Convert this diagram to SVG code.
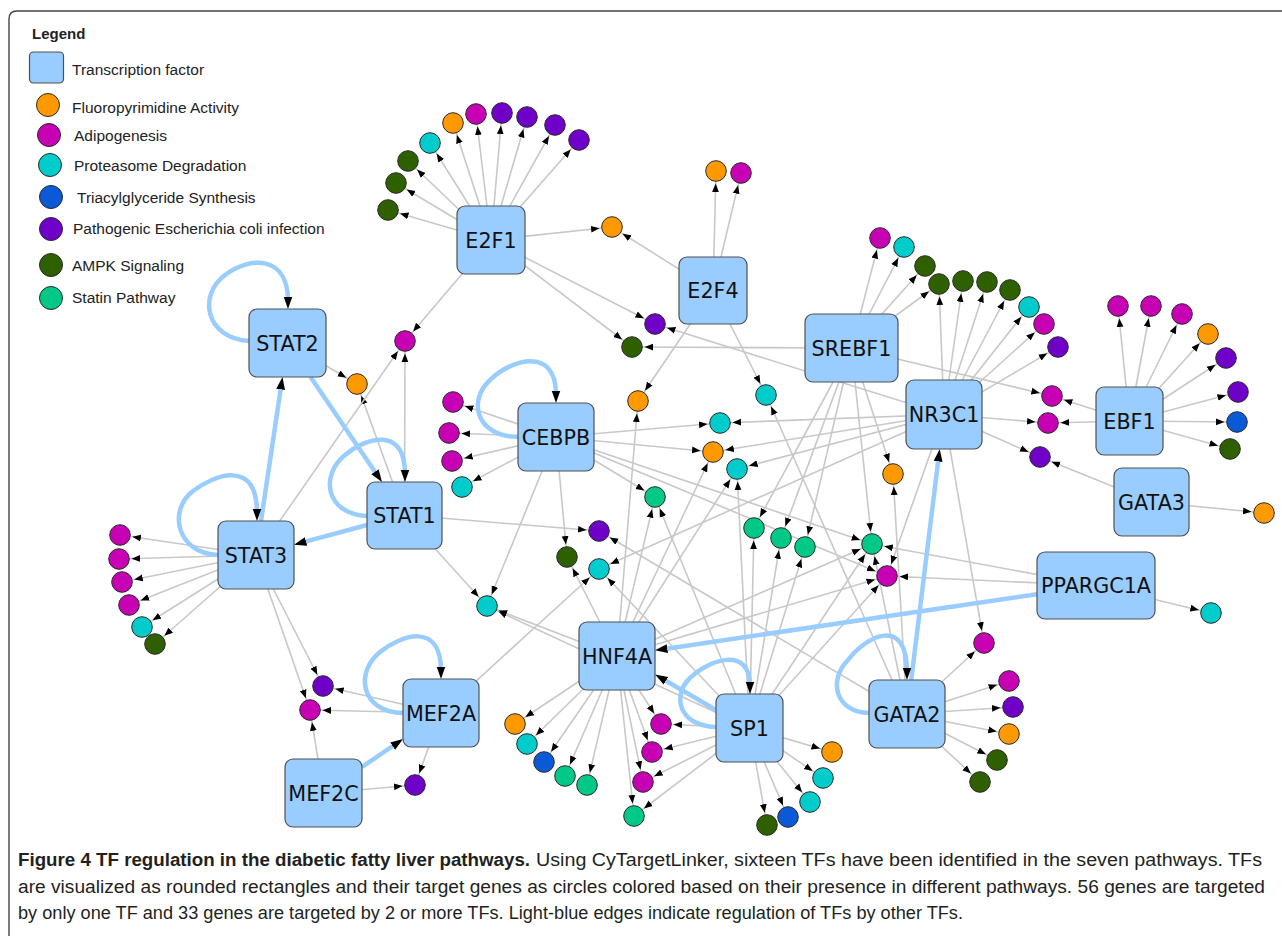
<svg xmlns="http://www.w3.org/2000/svg" width="1282" height="936" viewBox="0 0 1282 936">
<defs>
<style>
text{font-family:"Liberation Sans",Arial,sans-serif}
.tf{fill:#99ccff;stroke:#505050;stroke-width:1.2}
.tl{font-family:"DejaVu Sans",sans-serif;font-size:20.7px;fill:#111;text-anchor:middle}
.e line{stroke:#c8c8c8;stroke-width:1.6;marker-end:url(#a)}
.r{stroke:#99ccff;stroke-width:4.5;fill:none;marker-end:url(#b)}
.n{stroke:#2a2a2a;stroke-width:1}
.o{fill:#ff9900}.m{fill:#c800b4}.c{fill:#00cccc}.b{fill:#0a5ad8}.p{fill:#6e00c8}.g{fill:#2f6000}.s{fill:#00c887}
.lg{font-size:15.5px;fill:#222}
.cap{font-size:17.5px;fill:#231f20}
</style>
<marker id="a" markerUnits="userSpaceOnUse" markerWidth="22" markerHeight="8" refX="21" refY="4" orient="auto"><path d="M0,0.6 L8.5,4 L0,7.4Z" fill="#000"/></marker>
<marker id="b" markerUnits="userSpaceOnUse" markerWidth="13" markerHeight="10" refX="4.5" refY="5" orient="auto"><path d="M0,0.6 L12.5,5 L0,9.4Z" fill="#000"/></marker>
</defs>
<rect width="1282" height="936" fill="#fff"/>
<path d="M9,936 V19 Q9,11 17,11 H1282" fill="none" stroke="#444" stroke-width="1.4"/>

<g id="legend">
<text x="32" y="39" font-weight="bold" font-size="15" fill="#222">Legend</text>
<rect class="tf" x="29.5" y="52" width="34" height="31" rx="4"/>
<text class="lg" x="72" y="74.5">Transcription factor</text>
<circle class="n o" cx="48" cy="105" r="11.5"/><text class="lg" x="72" y="113">Fluoropyrimidine Activity</text>
<circle class="n m" cx="49" cy="135" r="11.5"/><text class="lg" x="74" y="141">Adipogenesis</text>
<circle class="n c" cx="50" cy="165" r="11.5"/><text class="lg" x="74" y="171">Proteasome Degradation</text>
<circle class="n b" cx="51" cy="197" r="11.5"/><text class="lg" x="77" y="202.5">Triacylglyceride Synthesis</text>
<circle class="n p" cx="51" cy="229" r="11.5"/><text class="lg" x="73" y="233.5">Pathogenic Escherichia coli infection</text>
<circle class="n g" cx="51" cy="265" r="11.5"/><text class="lg" x="72" y="270.5">AMPK Signaling</text>
<circle class="n s" cx="51" cy="298" r="11.5"/><text class="lg" x="72" y="302.5">Statin Pathway</text>
</g>

<g id="connectors">
<g class="e">
<line x1="491" y1="240" x2="430" y2="143"/>
<line x1="491" y1="240" x2="453" y2="123"/>
<line x1="491" y1="240" x2="476" y2="114"/>
<line x1="491" y1="240" x2="502" y2="113"/>
<line x1="491" y1="240" x2="527" y2="117"/>
<line x1="491" y1="240" x2="555" y2="125"/>
<line x1="491" y1="240" x2="579" y2="140"/>
<line x1="491" y1="240" x2="408" y2="161"/>
<line x1="491" y1="240" x2="396" y2="183"/>
<line x1="491" y1="240" x2="388" y2="210"/>
<line x1="491" y1="240" x2="612" y2="227"/>
<line x1="491" y1="240" x2="655" y2="324"/>
<line x1="491" y1="240" x2="632" y2="347"/>
<line x1="491" y1="240" x2="405" y2="341"/>
<line x1="713" y1="290.5" x2="716" y2="171"/>
<line x1="713" y1="290.5" x2="741" y2="173"/>
<line x1="713" y1="290.5" x2="612" y2="227"/>
<line x1="713" y1="290.5" x2="638" y2="401"/>
<line x1="713" y1="290.5" x2="766" y2="395"/>
<line x1="851.5" y1="348" x2="880" y2="238"/>
<line x1="851.5" y1="348" x2="904" y2="247"/>
<line x1="851.5" y1="348" x2="925" y2="266"/>
<line x1="851.5" y1="348" x2="939" y2="284"/>
<line x1="851.5" y1="348" x2="632" y2="347"/>
<line x1="851.5" y1="348" x2="1052" y2="396"/>
<line x1="851.5" y1="348" x2="754" y2="528"/>
<line x1="851.5" y1="348" x2="781" y2="538"/>
<line x1="851.5" y1="348" x2="805" y2="547"/>
<line x1="851.5" y1="348" x2="872" y2="544"/>
<line x1="851.5" y1="348" x2="893" y2="474"/>
<line x1="944" y1="414.5" x2="939" y2="284"/>
<line x1="944" y1="414.5" x2="963" y2="281"/>
<line x1="944" y1="414.5" x2="987" y2="282"/>
<line x1="944" y1="414.5" x2="1010" y2="290"/>
<line x1="944" y1="414.5" x2="1029" y2="307"/>
<line x1="944" y1="414.5" x2="1044" y2="324"/>
<line x1="944" y1="414.5" x2="1058" y2="347"/>
<line x1="944" y1="414.5" x2="1048" y2="423"/>
<line x1="944" y1="414.5" x2="1040" y2="457"/>
<line x1="944" y1="414.5" x2="655" y2="324"/>
<line x1="944" y1="414.5" x2="720" y2="423"/>
<line x1="944" y1="414.5" x2="713" y2="452"/>
<line x1="944" y1="414.5" x2="737" y2="469"/>
<line x1="944" y1="414.5" x2="599" y2="569"/>
<line x1="944" y1="414.5" x2="887" y2="576"/>
<line x1="944" y1="414.5" x2="984" y2="643"/>
<line x1="1129.5" y1="421" x2="1118" y2="306"/>
<line x1="1129.5" y1="421" x2="1151" y2="306"/>
<line x1="1129.5" y1="421" x2="1182" y2="314"/>
<line x1="1129.5" y1="421" x2="1208" y2="334"/>
<line x1="1129.5" y1="421" x2="1226" y2="358"/>
<line x1="1129.5" y1="421" x2="1238" y2="392"/>
<line x1="1129.5" y1="421" x2="1237" y2="422"/>
<line x1="1129.5" y1="421" x2="1230" y2="449"/>
<line x1="1129.5" y1="421" x2="1052" y2="396"/>
<line x1="1129.5" y1="421" x2="1048" y2="423"/>
<line x1="1151.5" y1="502" x2="1040" y2="457"/>
<line x1="1151.5" y1="502" x2="1264" y2="513"/>
<line x1="1096" y1="585.5" x2="872" y2="544"/>
<line x1="1096" y1="585.5" x2="887" y2="576"/>
<line x1="1096" y1="585.5" x2="1211" y2="613"/>
<line x1="907" y1="714" x2="984" y2="643"/>
<line x1="907" y1="714" x2="1009" y2="681"/>
<line x1="907" y1="714" x2="1013" y2="707"/>
<line x1="907" y1="714" x2="1009" y2="734"/>
<line x1="907" y1="714" x2="997" y2="760"/>
<line x1="907" y1="714" x2="980" y2="782"/>
<line x1="907" y1="714" x2="893" y2="474"/>
<line x1="907" y1="714" x2="766" y2="395"/>
<line x1="907" y1="714" x2="599" y2="531"/>
<line x1="907" y1="714" x2="872" y2="544"/>
<line x1="749.5" y1="728" x2="832" y2="752"/>
<line x1="749.5" y1="728" x2="823" y2="778"/>
<line x1="749.5" y1="728" x2="810" y2="802"/>
<line x1="749.5" y1="728" x2="788" y2="817"/>
<line x1="749.5" y1="728" x2="767" y2="825"/>
<line x1="749.5" y1="728" x2="661" y2="724"/>
<line x1="749.5" y1="728" x2="652" y2="752"/>
<line x1="749.5" y1="728" x2="643" y2="782"/>
<line x1="749.5" y1="728" x2="634" y2="816"/>
<line x1="749.5" y1="728" x2="754" y2="528"/>
<line x1="749.5" y1="728" x2="781" y2="538"/>
<line x1="749.5" y1="728" x2="805" y2="547"/>
<line x1="749.5" y1="728" x2="737" y2="469"/>
<line x1="749.5" y1="728" x2="655" y2="497"/>
<line x1="749.5" y1="728" x2="599" y2="569"/>
<line x1="749.5" y1="728" x2="887" y2="576"/>
<line x1="749.5" y1="728" x2="872" y2="544"/>
<line x1="749.5" y1="728" x2="487" y2="606"/>
<line x1="617" y1="656" x2="515" y2="724"/>
<line x1="617" y1="656" x2="527" y2="744"/>
<line x1="617" y1="656" x2="544" y2="762"/>
<line x1="617" y1="656" x2="565" y2="776"/>
<line x1="617" y1="656" x2="587" y2="785"/>
<line x1="617" y1="656" x2="661" y2="724"/>
<line x1="617" y1="656" x2="652" y2="752"/>
<line x1="617" y1="656" x2="643" y2="782"/>
<line x1="617" y1="656" x2="634" y2="816"/>
<line x1="617" y1="656" x2="487" y2="606"/>
<line x1="617" y1="656" x2="638" y2="401"/>
<line x1="617" y1="656" x2="655" y2="497"/>
<line x1="617" y1="656" x2="713" y2="452"/>
<line x1="617" y1="656" x2="737" y2="469"/>
<line x1="617" y1="656" x2="567" y2="557"/>
<line x1="617" y1="656" x2="872" y2="544"/>
<line x1="617" y1="656" x2="887" y2="576"/>
<line x1="556" y1="437" x2="453" y2="402"/>
<line x1="556" y1="437" x2="449" y2="433"/>
<line x1="556" y1="437" x2="452" y2="461"/>
<line x1="556" y1="437" x2="462" y2="487"/>
<line x1="556" y1="437" x2="720" y2="423"/>
<line x1="556" y1="437" x2="713" y2="452"/>
<line x1="556" y1="437" x2="655" y2="497"/>
<line x1="556" y1="437" x2="872" y2="544"/>
<line x1="556" y1="437" x2="887" y2="576"/>
<line x1="556" y1="437" x2="487" y2="606"/>
<line x1="556" y1="437" x2="567" y2="557"/>
<line x1="404.5" y1="515" x2="405" y2="341"/>
<line x1="404.5" y1="515" x2="357" y2="384"/>
<line x1="404.5" y1="515" x2="599" y2="531"/>
<line x1="404.5" y1="515" x2="487" y2="606"/>
<line x1="287.5" y1="343" x2="357" y2="384"/>
<line x1="256" y1="555" x2="120" y2="535"/>
<line x1="256" y1="555" x2="119" y2="559"/>
<line x1="256" y1="555" x2="122" y2="582"/>
<line x1="256" y1="555" x2="129" y2="605"/>
<line x1="256" y1="555" x2="142" y2="627"/>
<line x1="256" y1="555" x2="155" y2="644"/>
<line x1="256" y1="555" x2="405" y2="341"/>
<line x1="256" y1="555" x2="323" y2="686"/>
<line x1="256" y1="555" x2="310" y2="710"/>
<line x1="441" y1="713" x2="323" y2="686"/>
<line x1="441" y1="713" x2="310" y2="710"/>
<line x1="441" y1="713" x2="415" y2="785"/>
<line x1="441" y1="713" x2="599" y2="569"/>
<line x1="323.5" y1="793" x2="310" y2="710"/>
<line x1="323.5" y1="793" x2="415" y2="785"/>
</g>
<g id="tf-regulation">
<path class="r" d="M310.6,377 L377.5,475.4"/>
<path class="r" d="M261,521 L281.3,384.9"/>
<path class="r" d="M367,525 L301.7,542.7"/>
<path class="r" d="M362,767 L396.4,743.5"/>
<path class="r" d="M716,710 L662,678.5"/>
<path class="r" d="M1037,594.2 L662.9,649.2"/>
<path class="r" d="M911.2,680 L938.7,456.9"/>
<path class="r" d="M249,341 C205,338 198,295 225,275 C250,256 288,255 288,301"/>
<path class="r" d="M218,555 C176,553 168,510 193,491 C214,475 257,458 257,513"/>
<path class="r" d="M367,516 C325,514 320,475 345,455 C365,438 405,425 405,474"/>
<path class="r" d="M518,437 C475,436 468,400 490,380 C510,360 556,345 556,395"/>
<path class="r" d="M403,713 C360,712 355,672 380,652 C400,636 441,620 441,671"/>
<path class="r" d="M716,727 C678,726 672,695 690,678 C708,660 750,645 750,686"/>
<path class="r" d="M869,713 C835,712 828,680 848,660 C866,636 907,615 907,672"/>
</g>
</g>

<g id="genes">
<g id="gene-01"><circle class="n c" cx="430" cy="143" r="10.3"/></g>
<g id="gene-02"><circle class="n o" cx="453" cy="123" r="10.3"/></g>
<g id="gene-03"><circle class="n m" cx="476" cy="114" r="10.3"/></g>
<g id="gene-04"><circle class="n p" cx="502" cy="113" r="10.3"/></g>
<g id="gene-05"><circle class="n p" cx="527" cy="117" r="10.3"/></g>
<g id="gene-06"><circle class="n p" cx="555" cy="125" r="10.3"/></g>
<g id="gene-07"><circle class="n p" cx="579" cy="140" r="10.3"/></g>
<g id="gene-08"><circle class="n g" cx="408" cy="161" r="10.3"/></g>
<g id="gene-09"><circle class="n g" cx="396" cy="183" r="10.3"/></g>
<g id="gene-10"><circle class="n g" cx="388" cy="210" r="10.3"/></g>
<g id="gene-11"><circle class="n o" cx="612" cy="227" r="10.3"/></g>
<g id="gene-12"><circle class="n p" cx="655" cy="324" r="10.3"/></g>
<g id="gene-13"><circle class="n g" cx="632" cy="347" r="10.3"/></g>
<g id="gene-14"><circle class="n m" cx="405" cy="341" r="10.3"/></g>
<g id="gene-15"><circle class="n o" cx="716" cy="171" r="10.3"/></g>
<g id="gene-16"><circle class="n m" cx="741" cy="173" r="10.3"/></g>
<g id="gene-17"><circle class="n o" cx="638" cy="401" r="10.3"/></g>
<g id="gene-18"><circle class="n c" cx="766" cy="395" r="10.3"/></g>
<g id="gene-19"><circle class="n m" cx="880" cy="238" r="10.3"/></g>
<g id="gene-20"><circle class="n c" cx="904" cy="247" r="10.3"/></g>
<g id="gene-21"><circle class="n g" cx="925" cy="266" r="10.3"/></g>
<g id="gene-22"><circle class="n g" cx="939" cy="284" r="10.3"/></g>
<g id="gene-23"><circle class="n g" cx="963" cy="281" r="10.3"/></g>
<g id="gene-24"><circle class="n g" cx="987" cy="282" r="10.3"/></g>
<g id="gene-25"><circle class="n g" cx="1010" cy="290" r="10.3"/></g>
<g id="gene-26"><circle class="n c" cx="1029" cy="307" r="10.3"/></g>
<g id="gene-27"><circle class="n m" cx="1044" cy="324" r="10.3"/></g>
<g id="gene-28"><circle class="n p" cx="1058" cy="347" r="10.3"/></g>
<g id="gene-29"><circle class="n m" cx="1052" cy="396" r="10.3"/></g>
<g id="gene-30"><circle class="n m" cx="1048" cy="423" r="10.3"/></g>
<g id="gene-31"><circle class="n p" cx="1040" cy="457" r="10.3"/></g>
<g id="gene-32"><circle class="n m" cx="1118" cy="306" r="10.3"/></g>
<g id="gene-33"><circle class="n m" cx="1151" cy="306" r="10.3"/></g>
<g id="gene-34"><circle class="n m" cx="1182" cy="314" r="10.3"/></g>
<g id="gene-35"><circle class="n o" cx="1208" cy="334" r="10.3"/></g>
<g id="gene-36"><circle class="n p" cx="1226" cy="358" r="10.3"/></g>
<g id="gene-37"><circle class="n p" cx="1238" cy="392" r="10.3"/></g>
<g id="gene-38"><circle class="n b" cx="1237" cy="422" r="10.3"/></g>
<g id="gene-39"><circle class="n g" cx="1230" cy="449" r="10.3"/></g>
<g id="gene-40"><circle class="n o" cx="893" cy="474" r="10.3"/></g>
<g id="gene-41"><circle class="n o" cx="1264" cy="513" r="10.3"/></g>
<g id="gene-42"><circle class="n c" cx="1211" cy="613" r="10.3"/></g>
<g id="gene-43"><circle class="n s" cx="872" cy="544" r="10.3"/></g>
<g id="gene-44"><circle class="n m" cx="887" cy="576" r="10.3"/></g>
<g id="gene-45"><circle class="n m" cx="984" cy="643" r="10.3"/></g>
<g id="gene-46"><circle class="n m" cx="1009" cy="681" r="10.3"/></g>
<g id="gene-47"><circle class="n p" cx="1013" cy="707" r="10.3"/></g>
<g id="gene-48"><circle class="n o" cx="1009" cy="734" r="10.3"/></g>
<g id="gene-49"><circle class="n g" cx="997" cy="760" r="10.3"/></g>
<g id="gene-50"><circle class="n g" cx="980" cy="782" r="10.3"/></g>
<g id="gene-51"><circle class="n m" cx="453" cy="402" r="10.3"/></g>
<g id="gene-52"><circle class="n m" cx="449" cy="433" r="10.3"/></g>
<g id="gene-53"><circle class="n m" cx="452" cy="461" r="10.3"/></g>
<g id="gene-54"><circle class="n c" cx="462" cy="487" r="10.3"/></g>
<g id="gene-55"><circle class="n c" cx="720" cy="423" r="10.3"/></g>
<g id="gene-56"><circle class="n o" cx="713" cy="452" r="10.3"/></g>
<g id="gene-57"><circle class="n c" cx="737" cy="469" r="10.3"/></g>
<g id="gene-58"><circle class="n s" cx="655" cy="497" r="10.3"/></g>
<g id="gene-59"><circle class="n s" cx="754" cy="528" r="10.3"/></g>
<g id="gene-60"><circle class="n s" cx="781" cy="538" r="10.3"/></g>
<g id="gene-61"><circle class="n s" cx="805" cy="547" r="10.3"/></g>
<g id="gene-62"><circle class="n p" cx="599" cy="531" r="10.3"/></g>
<g id="gene-63"><circle class="n g" cx="567" cy="557" r="10.3"/></g>
<g id="gene-64"><circle class="n c" cx="599" cy="569" r="10.3"/></g>
<g id="gene-65"><circle class="n c" cx="487" cy="606" r="10.3"/></g>
<g id="gene-66"><circle class="n o" cx="357" cy="384" r="10.3"/></g>
<g id="gene-67"><circle class="n m" cx="120" cy="535" r="10.3"/></g>
<g id="gene-68"><circle class="n m" cx="119" cy="559" r="10.3"/></g>
<g id="gene-69"><circle class="n m" cx="122" cy="582" r="10.3"/></g>
<g id="gene-70"><circle class="n m" cx="129" cy="605" r="10.3"/></g>
<g id="gene-71"><circle class="n c" cx="142" cy="627" r="10.3"/></g>
<g id="gene-72"><circle class="n g" cx="155" cy="644" r="10.3"/></g>
<g id="gene-73"><circle class="n p" cx="323" cy="686" r="10.3"/></g>
<g id="gene-74"><circle class="n m" cx="310" cy="710" r="10.3"/></g>
<g id="gene-75"><circle class="n p" cx="415" cy="785" r="10.3"/></g>
<g id="gene-76"><circle class="n o" cx="515" cy="724" r="10.3"/></g>
<g id="gene-77"><circle class="n c" cx="527" cy="744" r="10.3"/></g>
<g id="gene-78"><circle class="n b" cx="544" cy="762" r="10.3"/></g>
<g id="gene-79"><circle class="n s" cx="565" cy="776" r="10.3"/></g>
<g id="gene-80"><circle class="n s" cx="587" cy="785" r="10.3"/></g>
<g id="gene-81"><circle class="n m" cx="661" cy="724" r="10.3"/></g>
<g id="gene-82"><circle class="n m" cx="652" cy="752" r="10.3"/></g>
<g id="gene-83"><circle class="n m" cx="643" cy="782" r="10.3"/></g>
<g id="gene-84"><circle class="n s" cx="634" cy="816" r="10.3"/></g>
<g id="gene-85"><circle class="n o" cx="832" cy="752" r="10.3"/></g>
<g id="gene-86"><circle class="n c" cx="823" cy="778" r="10.3"/></g>
<g id="gene-87"><circle class="n c" cx="810" cy="802" r="10.3"/></g>
<g id="gene-88"><circle class="n b" cx="788" cy="817" r="10.3"/></g>
<g id="gene-89"><circle class="n g" cx="767" cy="825" r="10.3"/></g>
</g>

<g id="tfs">
<g id="E2F1"><rect class="tf" x="457" y="206" width="68" height="68" rx="8"/><text class="tl" x="491" y="247.5">E2F1</text></g>
<g id="E2F4"><rect class="tf" x="679" y="257" width="68" height="67" rx="8"/><text class="tl" x="713" y="298">E2F4</text></g>
<g id="SREBF1"><rect class="tf" x="805" y="314" width="93" height="68" rx="8"/><text class="tl" x="851.5" y="355.5">SREBF1</text></g>
<g id="NR3C1"><rect class="tf" x="906" y="380" width="76" height="69" rx="8"/><text class="tl" x="944" y="422">NR3C1</text></g>
<g id="EBF1"><rect class="tf" x="1096" y="387" width="67" height="68" rx="8"/><text class="tl" x="1129.5" y="428.5">EBF1</text></g>
<g id="GATA3"><rect class="tf" x="1114" y="468" width="75" height="68" rx="8"/><text class="tl" x="1151.5" y="509.5">GATA3</text></g>
<g id="PPARGC1A"><rect class="tf" x="1037" y="552" width="118" height="67" rx="8"/><text class="tl" x="1096" y="593">PPARGC1A</text></g>
<g id="GATA2"><rect class="tf" x="869" y="680" width="76" height="68" rx="8"/><text class="tl" x="907" y="721.5">GATA2</text></g>
<g id="SP1"><rect class="tf" x="716" y="694" width="67" height="68" rx="8"/><text class="tl" x="749.5" y="735.5">SP1</text></g>
<g id="HNF4A"><rect class="tf" x="579" y="622" width="76" height="68" rx="8"/><text class="tl" x="617" y="663.5">HNF4A</text></g>
<g id="MEF2A"><rect class="tf" x="403" y="679" width="76" height="68" rx="8"/><text class="tl" x="441" y="720.5">MEF2A</text></g>
<g id="MEF2C"><rect class="tf" x="285" y="759" width="77" height="68" rx="8"/><text class="tl" x="323.5" y="800.5">MEF2C</text></g>
<g id="STAT2"><rect class="tf" x="249" y="309" width="77" height="68" rx="8"/><text class="tl" x="287.5" y="350.5">STAT2</text></g>
<g id="STAT1"><rect class="tf" x="367" y="482" width="75" height="67" rx="8"/><text class="tl" x="404.5" y="522.5">STAT1</text></g>
<g id="STAT3"><rect class="tf" x="218" y="521" width="76" height="68" rx="8"/><text class="tl" x="256" y="562.5">STAT3</text></g>
<g id="CEBPB"><rect class="tf" x="518" y="403" width="76" height="68" rx="8"/><text class="tl" x="556" y="444.5">CEBPB</text></g>
</g>

<g id="caption">
<text class="cap" x="18" y="866" font-weight="bold" textLength="512" lengthAdjust="spacingAndGlyphs">Figure 4 TF regulation in the diabetic fatty liver pathways.</text>
<text class="cap" x="536" y="866" textLength="726" lengthAdjust="spacingAndGlyphs">Using CyTargetLinker, sixteen TFs have been identified in the seven pathways. TFs</text>
<text class="cap" x="18" y="893" textLength="1247" lengthAdjust="spacingAndGlyphs">are visualized as rounded rectangles and their target genes as circles colored based on their presence in different pathways. 56 genes are targeted</text>
<text class="cap" x="18" y="919" textLength="945" lengthAdjust="spacingAndGlyphs">by only one TF and 33 genes are targeted by 2 or more TFs. Light-blue edges indicate regulation of TFs by other TFs.</text>
</g>
</svg>
